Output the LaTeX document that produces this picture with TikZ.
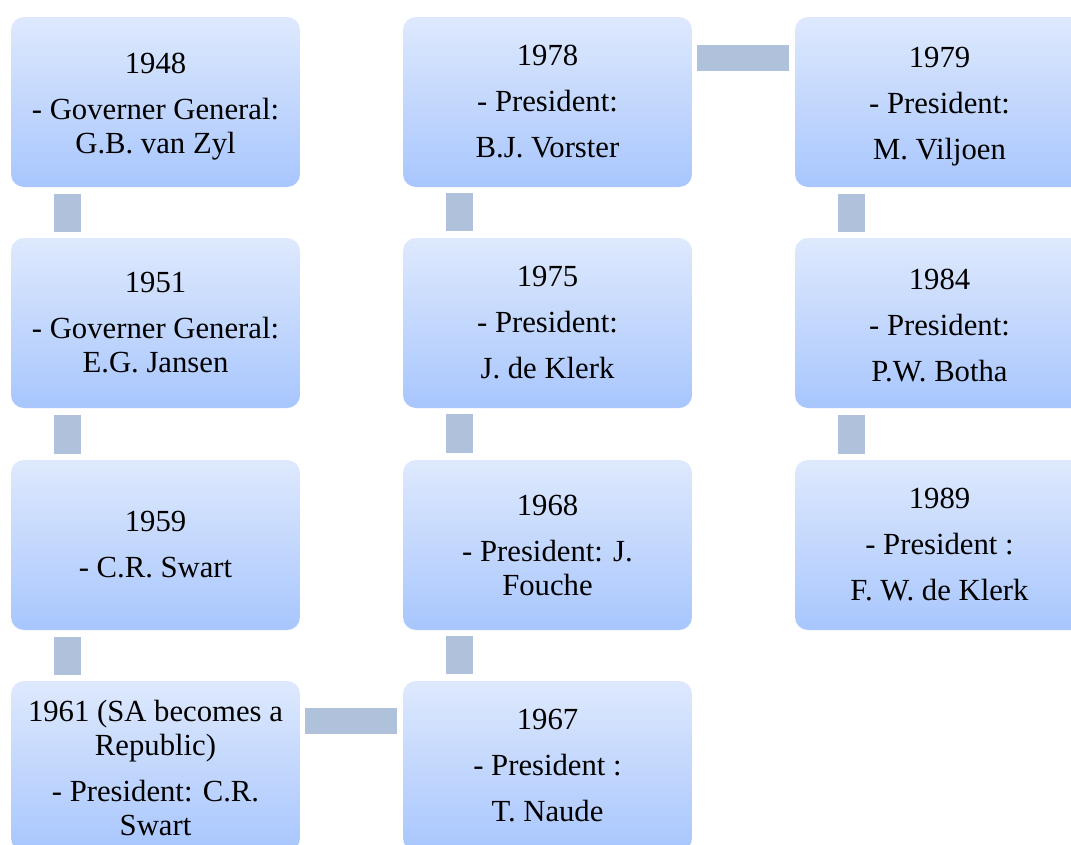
\documentclass[tikz,border=0pt]{standalone}
\usepackage{fontspec}
\setmainfont{Liberation Serif}
\begin{document}
\begin{tikzpicture}[x=1pt,y=-1pt,
  box/.style={rectangle, rounded corners=13pt, minimum width=289pt, minimum height=170pt,
    inner sep=0pt, top color=boxtop, bottom color=boxbot, draw=none, align=center,
    font=\rmfamily\fontsize{30.7}{34}\selectfont},
  vconn/.style={draw=conn, line width=27pt, shorten <=7pt, shorten >=6pt},
  hconn/.style={draw=conn, line width=26pt, shorten <=5pt, shorten >=6pt}]
\definecolor{boxtop}{RGB}{222,233,253}
\definecolor{boxbot}{RGB}{168,198,253}
\definecolor{conn}{RGB}{176,193,219}
\useasboundingbox (0,0) rectangle (1071,844);
\clip (0,0) rectangle (1071,844);
\fill[white] (0,0) rectangle (1071,844);
% column 1
\node[box] (a1) at (155.5,102) {\rule{0pt}{29pt}1948\\[12pt]- Governer General:\\G.B. van Zyl};
\node[box] (a2) at (155.5,323) {1951\\[12pt]- Governer General:\\E.G. Jansen};
\node[box] (a3) at (155.5,545) {1959\\[12pt]- C.R. Swart};
\node[box] (a4) at (155.5,766) {\rule{0pt}{25pt}1961 (SA becomes a\\Republic)\\[12pt]- President: C.R.\\Swart};
% column 2
\node[box] (b1) at (547.5,102) {1978\\[12pt]- President:\\[12pt]B.J. Vorster};
\node[box] (b2) at (547.5,323) {1975\\[12pt]- President:\\[12pt]J. de Klerk};
\node[box] (b3) at (547.5,545) {1968\\[12pt]- President: J.\\Fouche};
\node[box] (b4) at (547.5,766) {1967\\[12pt]- President :\\[12pt]T. Naude};
% column 3
\node[box] (c1) at (939.5,102) {\rule{0pt}{29pt}1979\\[12pt]- President:\\[12pt]M. Viljoen};
\node[box] (c2) at (939.5,323) {\rule{0pt}{25pt}1984\\[12pt]- President:\\[12pt]P.W. Botha};
\node[box] (c3) at (939.5,545) {1989\\[12pt]- President :\\[12pt]F. W. de Klerk};
% connectors
\draw[vconn] ([xshift=56.5pt]a1.south west) -- ([xshift=56.5pt]a2.north west);
\draw[vconn] ([xshift=56.5pt]a2.south west) -- ([xshift=56.5pt]a3.north west);
\draw[vconn] ([xshift=56.5pt]a3.south west) -- ([xshift=56.5pt]a4.north west);
\draw[hconn] ([yshift=-40pt]a4.north east) -- ([yshift=-40pt]b4.north west);
\draw[vconn] ([xshift=56.5pt]b4.north west) -- ([xshift=56.5pt]b3.south west);
\draw[vconn] ([xshift=56.5pt]b3.north west) -- ([xshift=56.5pt]b2.south west);
\draw[vconn] ([xshift=56.5pt]b2.north west) -- ([xshift=56.5pt]b1.south west);
\draw[hconn] ([yshift=-41pt]b1.north east) -- ([yshift=-41pt]c1.north west);
\draw[vconn] ([xshift=56.5pt]c1.south west) -- ([xshift=56.5pt]c2.north west);
\draw[vconn] ([xshift=56.5pt]c2.south west) -- ([xshift=56.5pt]c3.north west);
\end{tikzpicture}
\end{document}
